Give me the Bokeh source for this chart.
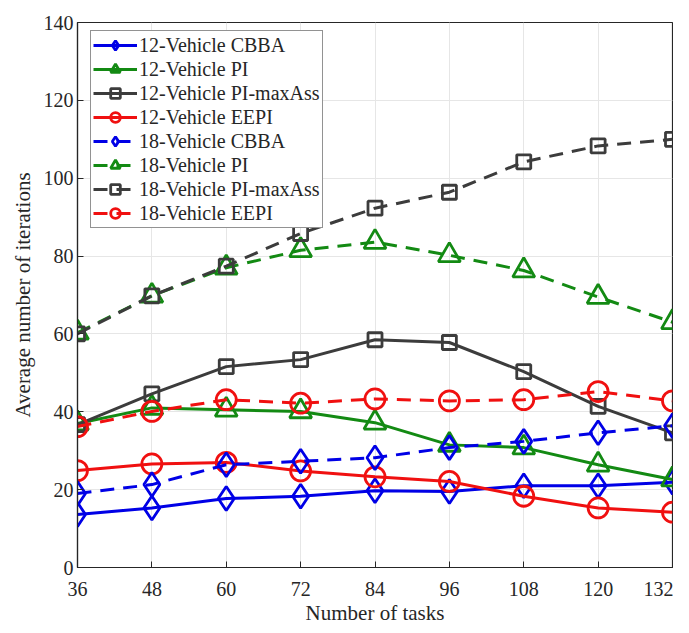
from bokeh.plotting import figure
from bokeh.models import FixedTicker, Range1d, Legend
from bokeh.embed import file_html
from bokeh.resources import INLINE

tasks = [36, 48, 60, 72, 84, 96, 108, 120, 132]

v12_cbba = [13.6, 15.3, 17.7, 18.3, 19.7, 19.5, 21.0, 21.0, 21.9]
v12_pi = [37.0, 41.0, 40.5, 40.1, 37.2, 31.5, 30.8, 26.4, 22.6]
v12_pimax = [36.7, 44.6, 51.6, 53.4, 58.5, 57.8, 50.3, 41.4, 34.6]
v12_eepi = [24.9, 26.6, 27.0, 24.8, 23.3, 22.1, 18.3, 15.3, 14.2]
v18_cbba = [19.0, 21.3, 26.4, 27.3, 28.2, 30.8, 32.4, 34.6, 36.4]
v18_pi = [60.3, 69.8, 77.0, 81.5, 83.6, 80.2, 76.3, 69.5, 63.0]
v18_pimax = [60.0, 69.8, 77.4, 85.8, 92.3, 96.4, 104.2, 108.3, 110.0]
v18_eepi = [36.2, 40.1, 43.1, 42.2, 43.3, 42.8, 43.1, 45.2, 42.8]

labels = ["12-Vehicle CBBA", "12-Vehicle PI", "12-Vehicle PI-maxAss", "12-Vehicle EEPI",
          "18-Vehicle CBBA", "18-Vehicle PI", "18-Vehicle PI-maxAss", "18-Vehicle EEPI"]
x_ticks = [36, 48, 60, 72, 84, 96, 108, 120, 132]
y_ticks = [0, 20, 40, 60, 80, 100, 120, 140]

BLUE = "#0000e6"
GREEN = "#138a13"
GREY = "#3c3c3c"
RED = "#f01010"
FONT = "Liberation Serif"
AX = "#262626"

p = figure(width=673, height=630, x_range=Range1d(36, 132), y_range=Range1d(0, 140),
           output_backend="svg", toolbar_location=None,
           min_border_left=77, min_border_right=1, min_border_top=22, min_border_bottom=63)
p.outline_line_color = AX
p.outline_line_width = 1.2
p.background_fill_color = "white"
p.border_fill_color = "white"

for ax in (p.xaxis[0], p.yaxis[0]):
    ax.major_label_text_font = FONT
    ax.major_label_text_font_size = "20px"
    ax.major_label_text_color = AX
    ax.axis_label_text_font = FONT
    ax.axis_label_text_font_size = "21px"
    ax.axis_label_text_font_style = "normal"
    ax.axis_label_text_color = AX
    ax.axis_line_color = AX
    ax.major_tick_line_color = AX
    ax.major_tick_in = 6
    ax.major_tick_out = 0
    ax.minor_tick_line_color = None
    ax.axis_line_width = 1.2
p.xaxis.ticker = FixedTicker(ticks=x_ticks)
p.yaxis.ticker = FixedTicker(ticks=y_ticks)
p.xaxis.axis_label = "Number of tasks"
p.yaxis.axis_label = "Average number of iterations"
p.xaxis.axis_label_standoff = 2
p.yaxis.axis_label_standoff = 6
p.xaxis.major_label_standoff = 14
p.yaxis.major_label_standoff = 4

p.xgrid.ticker = FixedTicker(ticks=x_ticks)
p.ygrid.ticker = FixedTicker(ticks=y_ticks)
p.grid.grid_line_color = "#e6e6e6"
p.grid.grid_line_width = 1

series = [
    (v12_cbba, BLUE, "diamond", 24, "solid"),
    (v12_pi, GREEN, "triangle", 22, "solid"),
    (v12_pimax, GREY, "square", 14, "solid"),
    (v12_eepi, RED, "circle", 20, "solid"),
    (v18_cbba, BLUE, "diamond", 24, "14 9"),
    (v18_pi, GREEN, "triangle", 22, "14 9"),
    (v18_pimax, GREY, "square", 14, "14 9"),
    (v18_eepi, RED, "circle", 20, "14 9"),
]

items = []
for (vals, col, mk, sz, dash), lab in zip(series, labels):
    r1 = p.line(tasks, vals, line_color=col, line_width=3, line_dash=dash)
    r2 = p.scatter(tasks, vals, marker=mk, size=sz, line_color=col, line_width=2.8,
                   fill_color=None)
    items.append((lab, [r1, r2]))

legend = Legend(items=items, location=(13, 339))
legend.label_text_font = FONT
legend.label_text_font_size = "20px"
legend.label_text_color = AX
legend.glyph_width = 44
legend.glyph_height = 24
legend.label_height = 24
legend.spacing = 0
legend.padding = 2
legend.margin = 0
legend.label_standoff = 2
legend.border_line_color = AX
legend.border_line_width = 1
legend.background_fill_alpha = 1
p.add_layout(legend)

open("out.html", "w").write(file_html(p, INLINE))
